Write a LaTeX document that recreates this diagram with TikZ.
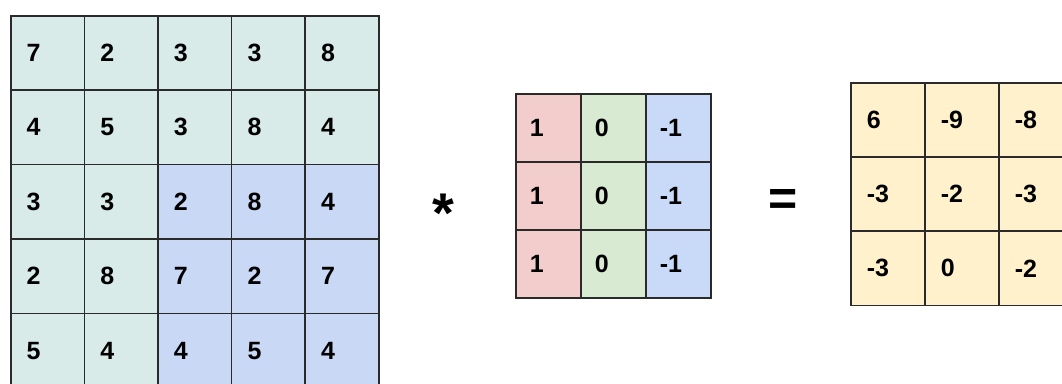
\documentclass[tikz,border=0pt]{standalone}
\usepackage{fontspec}
\setmainfont{Liberation Sans}
\usetikzlibrary{positioning}
\definecolor{gridline}{HTML}{2A2A2A}
\definecolor{inputcyan}{HTML}{D8EBE8}
\definecolor{inputblue}{HTML}{C9D8F4}
\definecolor{kred}{HTML}{F3CCCC}
\definecolor{kgreen}{HTML}{D9EAD3}
\definecolor{kblue}{HTML}{C9DAF8}
\definecolor{outyellow}{HTML}{FFF1CC}
\begin{document}
\begin{tikzpicture}[
    x=1pt, y=-1pt,
    cell/.style={
      draw=gridline,
      line width=1.5pt,
      rectangle,
      anchor=north west,
      inner xsep=16pt,
      inner ysep=0pt,
      align=left,
      font=\fontsize{25}{28}\selectfont\bfseries
    },
    incell/.style={cell, text width=41.6pt, minimum height=74.4pt},
    kcell/.style={cell, inner xsep=14pt, text width=37pt, minimum height=68pt},
    outcell/.style={cell, text width=42pt, minimum height=74pt},
    opsign/.style={inner sep=0pt}
  ]
  \useasboundingbox (0,0) rectangle (1062,383);
  \clip (0,0) rectangle (1062,383);

  % input image
  \foreach \row [count=\i from 0] in {{7,2,3,3,8},{4,5,3,8,4},{3,3,2,8,4},{2,8,7,2,7},{5,4,4,5,4}} {
    \foreach \v [count=\j from 0] in \row {
      \pgfmathparse{(\i>1 && \j>1) ? "inputblue" : "inputcyan"}
      \edef\cellfill{\pgfmathresult}
      \node[incell, fill=\cellfill] (in-\i-\j) at (10+73.6*\j, 15+74.4*\i) {\v};
    }
  }

  % kernel
  \node[opsign, font=\fontsize{56}{56}\selectfont\bfseries] (star) at (443,213) {*};
  \foreach \i in {0,1,2} {
    \foreach \v/\c [count=\j from 0] in {1/kred,0/kgreen,-1/kblue} {
      \node[kcell, fill=\c] (k-\i-\j) at (515+65*\j, 93+68*\i) {\v};
    }
  }

  % output
  \node[opsign, font=\fontsize{50}{50}\selectfont\bfseries] (equal) at (783,202) {=};
  \foreach \row [count=\i from 0] in {{6,-9,-8},{-3,-2,-3},{-3,0,-2}} {
    \foreach \v [count=\j from 0] in \row {
      \node[outcell, fill=outyellow] (out-\i-\j) at (850+74*\j, 82+74.3*\i) {\v};
    }
  }
\end{tikzpicture}
\end{document}
